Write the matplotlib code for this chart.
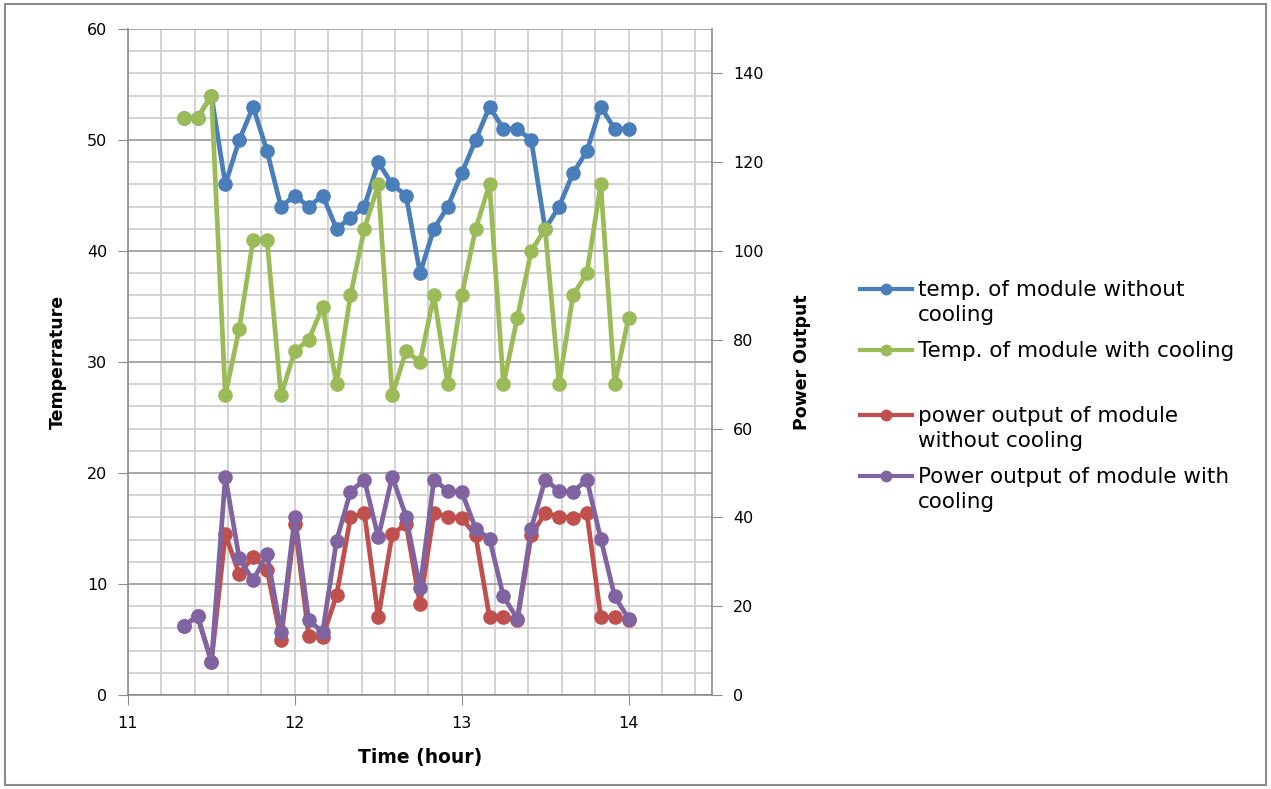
import numpy as np
import matplotlib
matplotlib.use("Agg")
import matplotlib.pyplot as plt
from matplotlib.patches import Rectangle
from matplotlib.ticker import MultipleLocator
from matplotlib.legend_handler import HandlerLine2D

# time of day in hours, every 5 minutes from 11:20 to 14:00
hours = [11 + 20/60 + 5*i/60 for i in range(33)]

# temperature of the module (left axis)
temp_no_cool = [52, 52, 54, 46, 50, 53, 49, 44, 45, 44, 45, 42, 43, 44, 48, 46, 45,
                38, 42, 44, 47, 50, 53, 51, 51, 50, 42, 44, 47, 49, 53, 51, 51]
temp_cool = [52, 52, 54, 27, 33, 41, 41, 27, 31, 32, 35, 28, 36, 42, 46, 27, 31,
             30, 36, 28, 36, 42, 46, 28, 34, 40, 42, 28, 36, 38, 46, 28, 34]

# power output (right axis)
power_no_cool = [15.5, 17.8, 7.5, 36.2, 27.2, 31.2, 28.2, 12.5, 38.5, 13.2, 13.0, 22.5,
                 40.0, 41.0, 17.5, 36.2, 38.5, 20.5, 41.0, 40.2, 39.8, 36.0, 17.5, 17.5,
                 16.8, 36.0, 41.0, 40.2, 39.8, 41.0, 17.5, 17.5, 16.8]
power_cool = [15.5, 17.8, 7.5, 49.2, 30.8, 25.8, 31.8, 14.2, 40.2, 16.8, 14.2, 34.8,
              45.8, 48.5, 35.5, 49.2, 40.2, 24.0, 48.5, 46.0, 45.8, 37.5, 35.2, 22.2,
              17.2, 37.5, 48.5, 46.0, 45.8, 48.5, 35.2, 22.2, 17.2]

labels = ["temp. of module without\ncooling",
          "Temp. of module with cooling",
          "power output of module\nwithout cooling",
          "Power output of module with\ncooling"]
colors = ["#4A7EBB", "#9BBB59", "#C0504D", "#8064A2"]


# legend handle that sits on the first line of a wrapped label (like Excel)
class FirstLineHandler(HandlerLine2D):
    def __init__(self, shift=0.0, **kw):
        super().__init__(**kw)
        self.shift = shift

    def create_artists(self, legend, orig_handle, xdescent, ydescent, width, height, fontsize, trans):
        arts = super().create_artists(legend, orig_handle, xdescent, ydescent, width, height, fontsize, trans)
        for a in arts:
            a.set_ydata(np.asarray(a.get_ydata(), dtype=float) + self.shift * fontsize)
        return arts


fig = plt.figure(figsize=(12.71, 7.89), dpi=100)
fig.patches.append(Rectangle((0.004, 0.005), 0.992, 0.99, transform=fig.transFigure,
                             fill=False, edgecolor="#8c8c8c", linewidth=1.5))

ax = fig.add_axes([0.1007, 0.1191, 0.4595, 0.8441])
ax2 = ax.twinx()

lw = 3.4
ms = 9.5
l1, = ax.plot(hours, temp_no_cool, "-o", color=colors[0], lw=lw, ms=ms, label=labels[0])
l2, = ax.plot(hours, temp_cool, "-o", color=colors[1], lw=lw, ms=ms, label=labels[1])
l3, = ax2.plot(hours, power_no_cool, "-o", color=colors[2], lw=lw, ms=ms, label=labels[2])
l4, = ax2.plot(hours, power_cool, "-o", color=colors[3], lw=lw, ms=ms, label=labels[3])

ax.set_xlim(11, 14.5)
ax.set_ylim(0, 60)
ax2.set_ylim(0, 150)
ax.xaxis.set_major_locator(MultipleLocator(1))
ax.xaxis.set_minor_locator(MultipleLocator(0.2))
ax.yaxis.set_major_locator(MultipleLocator(10))
ax.yaxis.set_minor_locator(MultipleLocator(2))
ax2.yaxis.set_major_locator(MultipleLocator(20))
ax2.yaxis.set_minor_locator(plt.NullLocator())

ax.grid(True, which="minor", color="#d0d0d0", lw=1.3)
ax.grid(True, which="major", axis="x", color="#d0d0d0", lw=1.3)
ax.grid(True, which="major", axis="y", color="#a0a0a0", lw=1.3)
ax.set_axisbelow(True)

for a in (ax, ax2):
    for s in a.spines.values():
        s.set_visible(False)
ax.spines["left"].set_visible(True)
ax.spines["bottom"].set_visible(True)
ax2.spines["right"].set_visible(True)
for s in (ax.spines["left"], ax.spines["bottom"], ax2.spines["right"]):
    s.set_color("#8c8c8c")
    s.set_linewidth(1.2)

ax.tick_params(axis="both", which="minor", length=0)
ax.tick_params(axis="both", which="major", length=7, color="#8c8c8c", labelsize=11.5, pad=8)
ax2.tick_params(axis="y", which="major", length=7, color="#8c8c8c", labelsize=11.5, pad=8)

ax.set_ylabel("Temperrature", fontsize=12.5, fontweight="bold", labelpad=14)
ax2.set_ylabel("Power Output", fontsize=12.5, fontweight="bold", labelpad=21)
ax.set_xlabel("Time (hour)", fontsize=13.5, fontweight="bold", labelpad=12)

leg_kw = dict(loc="upper left", frameon=False, fontsize=15.5, handlelength=2.4,
              handletextpad=0.3, labelspacing=0.75, borderpad=0, borderaxespad=0)
two_line = FirstLineHandler(shift=0.65)
one_line = FirstLineHandler(shift=0.0)

leg1 = fig.legend([l1, l2], [labels[0], labels[1]], bbox_to_anchor=(0.6766, 0.645),
                  handler_map={l1: two_line, l2: one_line}, **leg_kw)
leg2 = fig.legend([l3, l4], [labels[2], labels[3]], bbox_to_anchor=(0.6766, 0.485),
                  handler_map={l3: two_line, l4: two_line}, **leg_kw)
for leg in (leg1, leg2):
    for h in leg.legend_handles:
        h.set_markersize(7.5)
        h.set_linewidth(3)
    for t in leg.get_texts():
        t.set_linespacing(1.3)

fig.savefig("out.png", dpi=100)
